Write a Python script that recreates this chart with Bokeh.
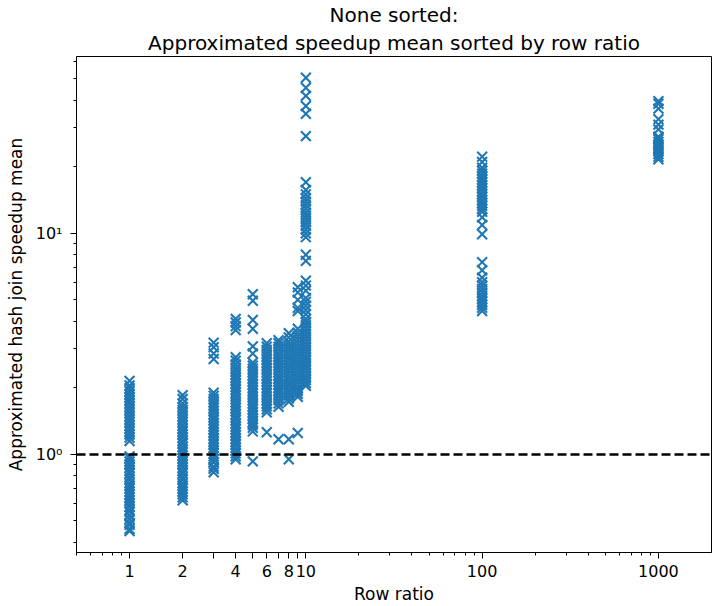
from bokeh.plotting import figure
from bokeh.models import ColumnDataSource, FixedTicker, Span, Title, Range1d
from bokeh.embed import file_html
from bokeh.resources import INLINE

# ---- data ----
row_ratios = [1, 2, 3, 4, 5, 6, 7, 8, 9, 10, 100, 1000]

speedup_r1 = [0.45, 0.46, 0.48, 0.49, 0.51, 0.53, 0.55, 0.56, 0.58, 0.60, 0.62, 0.64,
              0.66, 0.68, 0.70, 0.72, 0.74, 0.77, 0.79, 0.82, 0.84, 0.87, 0.90, 0.93,
              0.96, 0.98, 1.15, 1.19, 1.23, 1.27, 1.31, 1.35, 1.40, 1.44, 1.49, 1.54,
              1.59, 1.64, 1.70, 1.75, 1.81, 1.87, 1.93, 1.99, 2.05, 2.15]
speedup_r2 = [0.62, 0.64, 0.66, 0.68, 0.70, 0.72, 0.74, 0.77, 0.79, 0.82, 0.84, 0.87,
              0.90, 0.93, 0.96, 0.99, 1.02, 1.05, 1.08, 1.12, 1.15, 1.19, 1.23, 1.27,
              1.31, 1.35, 1.40, 1.44, 1.49, 1.54, 1.59, 1.64, 1.70, 1.78, 1.85]
speedup_r3 = [0.83, 0.86, 0.88, 0.92, 0.95, 0.98, 1.01, 1.04, 1.07, 1.11, 1.14, 1.18,
              1.22, 1.26, 1.30, 1.34, 1.38, 1.43, 1.47, 1.52, 1.57, 1.62, 1.67, 1.72,
              1.78, 1.84, 1.90, 2.70, 2.86, 3.05, 3.20]
speedup_r4 = [0.95, 0.98, 1.01, 1.04, 1.07, 1.11, 1.14, 1.18, 1.22, 1.26, 1.30, 1.34,
              1.38, 1.43, 1.47, 1.52, 1.57, 1.62, 1.67, 1.72, 1.78, 1.84, 1.90, 1.96,
              2.02, 2.09, 2.16, 2.23, 2.30, 2.38, 2.46, 2.55, 2.65, 2.75, 3.65, 3.80,
              3.95, 4.10]
speedup_r5 = [0.93, 1.27, 1.32, 1.36, 1.40, 1.45, 1.50, 1.55, 1.60, 1.65, 1.70, 1.76,
              1.82, 1.88, 1.94, 2.00, 2.07, 2.14, 2.21, 2.28, 2.36, 2.44, 2.52, 2.60,
              2.86, 3.08, 3.70, 4.05, 4.95, 5.30]
speedup_r6 = [1.26, 1.55, 1.60, 1.65, 1.70, 1.76, 1.82, 1.88, 1.94, 2.00, 2.07, 2.14,
              2.21, 2.28, 2.36, 2.44, 2.52, 2.60, 2.69, 2.78, 2.87, 2.97, 3.07, 3.18]
speedup_r7 = [1.17, 1.64, 1.70, 1.76, 1.82, 1.88, 1.94, 2.00, 2.07, 2.14, 2.21, 2.28,
              2.36, 2.44, 2.52, 2.60, 2.69, 2.78, 2.87, 2.97, 3.07, 3.18, 3.28]
speedup_r8 = [0.95, 1.17, 1.73, 1.79, 1.85, 1.91, 1.97, 2.04, 2.10, 2.17, 2.24, 2.32,
              2.40, 2.48, 2.56, 2.65, 2.74, 2.83, 2.93, 3.03, 3.13, 3.24, 3.38, 3.53]
speedup_r9 = [1.25, 1.82, 1.88, 1.94, 2.00, 2.07, 2.14, 2.21, 2.28, 2.36, 2.44, 2.52,
              2.60, 2.69, 2.78, 2.87, 2.97, 3.07, 3.18, 3.30, 3.42, 3.55, 3.70, 4.45,
              4.60, 5.00, 5.40, 5.70]
speedup_r10 = [2.04, 2.10, 2.17, 2.24, 2.32, 2.40, 2.48, 2.56, 2.65, 2.74, 2.83, 2.93,
               3.03, 3.13, 3.24, 3.35, 3.47, 3.59, 3.71, 3.84, 3.97, 4.10, 4.30, 4.50,
               4.70, 4.90, 5.10, 5.50, 5.80, 6.10, 7.50, 8.00, 9.60, 10.0, 10.4, 10.8,
               11.2, 11.6, 12.0, 12.4, 12.9, 13.4, 13.9, 14.4, 15.0, 15.7, 17.0, 27.5,
               34.7, 37.6, 41.8, 45.5, 50.5]
speedup_r100 = [4.45, 4.60, 4.75, 4.90, 5.05, 5.20, 5.40, 5.60, 5.80, 6.00, 6.30, 6.80,
                7.40, 9.90, 10.9, 11.8, 12.5, 12.9, 13.3, 13.7, 14.1, 14.6, 15.0, 15.5,
                16.0, 16.5, 17.0, 17.5, 18.0, 18.6, 19.2, 19.8, 21.0, 22.2]
speedup_r1000 = [21.6, 22.2, 22.8, 23.4, 24.0, 24.6, 25.2, 25.9, 26.6, 27.3, 29.5,
                 31.0, 32.8, 36.6, 38.5, 39.6]

speedup_by_ratio = [speedup_r1, speedup_r2, speedup_r3, speedup_r4, speedup_r5,
                    speedup_r6, speedup_r7, speedup_r8, speedup_r9, speedup_r10,
                    speedup_r100, speedup_r1000]

x_major_ticks = [1, 2, 3, 4, 5, 6, 7, 8, 9, 10, 100, 1000]
x_tick_labels = ["1", "2", "", "4", "", "6", "", "8", "", "10", "100", "1000"]
x_minor_ticks = [0.5, 0.6, 0.7, 0.8, 0.9, 20, 30, 40, 50, 60, 70, 80, 90,
                 200, 300, 400, 500, 600, 700, 800, 900]
y_major_ticks = [1, 10]
y_tick_labels = ["10\u2070", "10\u00b9"]
y_minor_ticks = [0.4, 0.5, 0.6, 0.7, 0.8, 0.9, 2, 3, 4, 5, 6, 7, 8, 9, 20, 30, 40, 50, 60]
baseline = 1.0

xs, ys = [], []
for r, vals in zip(row_ratios, speedup_by_ratio):
    xs += [r] * len(vals)
    ys += vals
src = ColumnDataSource(dict(x=xs, y=ys))

FONT = "DejaVu Sans"

p = figure(width=713, height=606, x_axis_type="log", y_axis_type="log",
           x_range=Range1d(0.5, 2000), y_range=Range1d(0.36, 63),
           title="None sorted:",
           output_backend="svg", toolbar_location=None,
           min_border_left=76, min_border_right=2, min_border_top=0, min_border_bottom=0)
p.title.align = "center"
p.title.text_font = FONT
p.title.text_font_size = "20px"
p.title.text_font_style = "normal"
p.title.text_color = "black"
p.title.standoff = 0
p.add_layout(Title(text="Approximated speedup mean sorted by row ratio", align="center",
                   text_font=FONT, text_font_size="20px", text_font_style="normal",
                   text_color="black", standoff=4), "above")

p.scatter("x", "y", source=src, marker="x", size=14, line_width=2.1,
          line_color="#1f77b4")
p.add_layout(Span(location=baseline, dimension="width", line_color="black",
                  line_width=2.5, line_dash="9 4"))

p.xgrid.visible = False
p.ygrid.visible = False
p.outline_line_color = "black"
p.outline_line_width = 1
p.outline_line_alpha = 1

p.xaxis.ticker = FixedTicker(ticks=x_major_ticks, minor_ticks=x_minor_ticks)
p.xaxis.major_label_overrides = dict(zip(x_major_ticks, x_tick_labels))
p.yaxis.ticker = FixedTicker(ticks=y_major_ticks, minor_ticks=y_minor_ticks)
p.yaxis.major_label_overrides = dict(zip(y_major_ticks, y_tick_labels))

for ax in (p.xaxis, p.yaxis):
    ax.axis_line_color = "black"
    ax.major_tick_line_color = "black"
    ax.minor_tick_line_color = "black"
    ax.major_tick_in = 0
    ax.major_tick_out = 6
    ax.minor_tick_in = 0
    ax.minor_tick_out = 3
    ax.major_label_text_font = FONT
    ax.major_label_text_font_size = "16px"
    ax.major_label_text_color = "black"
    ax.axis_label_text_font = FONT
    ax.axis_label_text_font_size = "17px"
    ax.axis_label_text_font_style = "normal"
    ax.axis_label_text_color = "black"

p.xaxis.major_label_standoff = 6
p.xaxis.axis_label_standoff = 4
p.yaxis.major_label_standoff = 8
p.yaxis.axis_label_standoff = 7

p.xaxis.axis_label = "Row ratio"
p.yaxis.axis_label = "Approximated hash join speedup mean"

open("out.html", "w").write(file_html(p, INLINE))
